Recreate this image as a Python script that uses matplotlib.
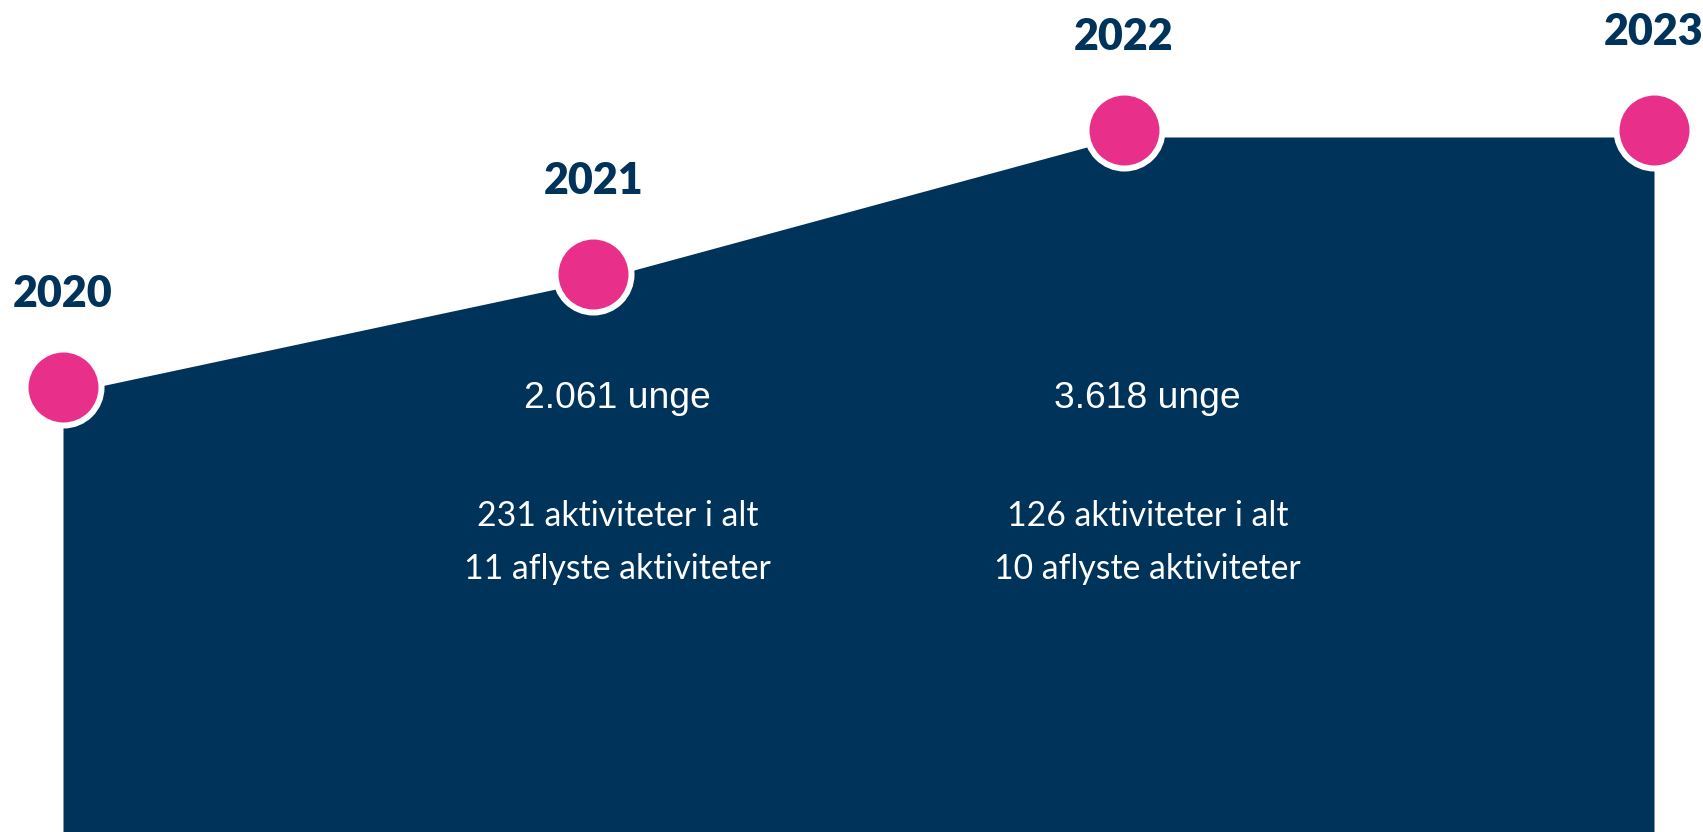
import matplotlib
matplotlib.use("Agg")
import matplotlib.pyplot as plt

# ---- data ----
years = [2020, 2021, 2022, 2023]
levels = [438, 551, 695, 695]          # height of the area top (px units on the y scale)
year_labels = ["2020", "2021", "2022", "2023"]
unge = ["2.061 unge", "3.618 unge"]
aktiviteter = ["231 aktiviteter i alt", "126 aktiviteter i alt"]
aflyste = ["11 aflyste aktiviteter", "10 aflyste aktiviteter"]
text_years = [2021, 2022]

NAVY = "#00335A"
PINK = "#E8308A"

W, H, DPI = 1703, 832, 100
fig = plt.figure(figsize=(W / DPI, H / DPI), dpi=DPI)
ax = fig.add_axes([0, 0, 1, 1])
ax.set_axis_off()

px_per_year = (1654 - 63) / 3.0
ax.set_xlim(2020 - 63 / px_per_year, 2023 + (W - 1654) / px_per_year)
ax.set_ylim(0, H)

ax.fill_between(years, levels, 0, color=NAVY, linewidth=0, zorder=1)

# circles with white ring
ms = 76 * 72 / DPI
ew = 6 * 72 / DPI
ax.plot(years, [v + 7 for v in levels], linestyle="none", marker="o",
        markersize=ms, markerfacecolor=PINK, markeredgecolor="white",
        markeredgewidth=ew, zorder=3)

# year labels
for yr, lv, lab in zip(years, levels, year_labels):
    off = 100 if yr < 2023 else 105
    ax.text(yr, lv + off, lab, ha="center", va="center", color=NAVY,
            fontsize=31, fontweight="heavy", family="Lato", zorder=4)

# texts inside the area
dx = 24 / px_per_year
for yr, u, a, f in zip(text_years, unge, aktiviteter, aflyste):
    ax.text(yr + dx, H - 399, u, ha="center", va="center", color="white",
            fontsize=26.8, family="Liberation Sans", zorder=4)
    ax.text(yr + dx, H - 516, a, ha="center", va="center", color="white",
            fontsize=24.3, family="Lato", zorder=4)
    ax.text(yr + dx, H - 569, f, ha="center", va="center", color="white",
            fontsize=24.3, family="Lato", zorder=4)

fig.savefig("out.png", dpi=DPI, facecolor="white")
